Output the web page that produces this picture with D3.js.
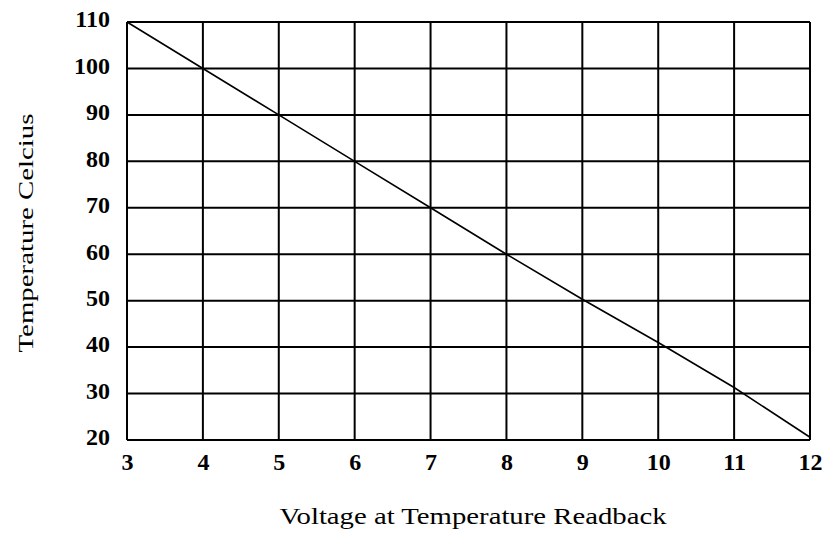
<!DOCTYPE html>
<html>
<head>
<meta charset="utf-8">
<script src="https://cdn.jsdelivr.net/npm/d3@7"></script>
<style>
  body { margin: 0; background: #fff; }
  text { font-family: "Liberation Serif", "DejaVu Serif", serif; fill: #000; }
</style>
</head>
<body>
<div id="chart"></div>
<script>
const WIDTH = 826;
const HEIGHT = 538;
const MARGIN = { top: 22, right: 16, bottom: 98, left: 127 };

// data
const voltage = [3, 4, 5, 6, 7, 8, 9, 10, 11, 12];
const temperature = [110, 100, 90, 80, 70, 60, 50.3, 41, 31.3, 20.6];
const xTicks = [3, 4, 5, 6, 7, 8, 9, 10, 11, 12];
const yTicks = [20, 30, 40, 50, 60, 70, 80, 90, 100, 110];

const innerW = WIDTH - MARGIN.left - MARGIN.right;
const innerH = HEIGHT - MARGIN.top - MARGIN.bottom;

const svg = d3.select("#chart")
    .append("svg")
    .attr("width", WIDTH)
    .attr("height", HEIGHT);

const g = svg.append("g")
    .attr("transform", "translate(" + MARGIN.left + "," + MARGIN.top + ")");

const x = d3.scaleLinear().domain([3, 12]).range([0, innerW]);
const y = d3.scaleLinear().domain([20, 110]).range([innerH, 0]);

// grid
g.append("g")
    .selectAll("line")
    .data(xTicks)
    .enter()
    .append("line")
    .attr("x1", d => x(d)).attr("x2", d => x(d))
    .attr("y1", 0).attr("y2", innerH)
    .attr("stroke", "#000").attr("stroke-width", 2);

g.append("g")
    .selectAll("line")
    .data(yTicks)
    .enter()
    .append("line")
    .attr("x1", 0).attr("x2", innerW)
    .attr("y1", d => y(d)).attr("y2", d => y(d))
    .attr("stroke", "#000").attr("stroke-width", 2);

// axes (labels only)
const xAxis = g.append("g")
    .attr("transform", "translate(0," + innerH + ")")
    .call(d3.axisBottom(x).tickValues(xTicks).tickSize(0).tickPadding(13));
xAxis.select(".domain").remove();
xAxis.selectAll("text").style("font-size", "24px").style("font-weight", "bold");

const yAxis = g.append("g")
    .call(d3.axisLeft(y).tickValues(yTicks).tickSize(0).tickPadding(17));
yAxis.select(".domain").remove();
yAxis.selectAll("text").style("font-size", "24px").style("font-weight", "bold")
    .attr("dy", "0.2em");

// the line
const line = d3.line()
    .x((d, i) => x(voltage[i]))
    .y(d => y(d));

g.append("path")
    .datum(temperature)
    .attr("d", line)
    .attr("fill", "none")
    .attr("stroke", "#000")
    .attr("stroke-width", 1.6);

// titles
svg.append("text")
    .attr("x", 473)
    .attr("y", 524)
    .attr("text-anchor", "middle")
    .attr("textLength", 387)
    .attr("lengthAdjust", "spacingAndGlyphs")
    .style("font-size", "23px")
    .text("Voltage at Temperature Readback");

svg.append("text")
    .attr("transform", "translate(33,233) rotate(-90)")
    .attr("text-anchor", "middle")
    .attr("textLength", 239)
    .attr("lengthAdjust", "spacingAndGlyphs")
    .style("font-size", "22px")
    .text("Temperature Celcius");
</script>
</body>
</html>
